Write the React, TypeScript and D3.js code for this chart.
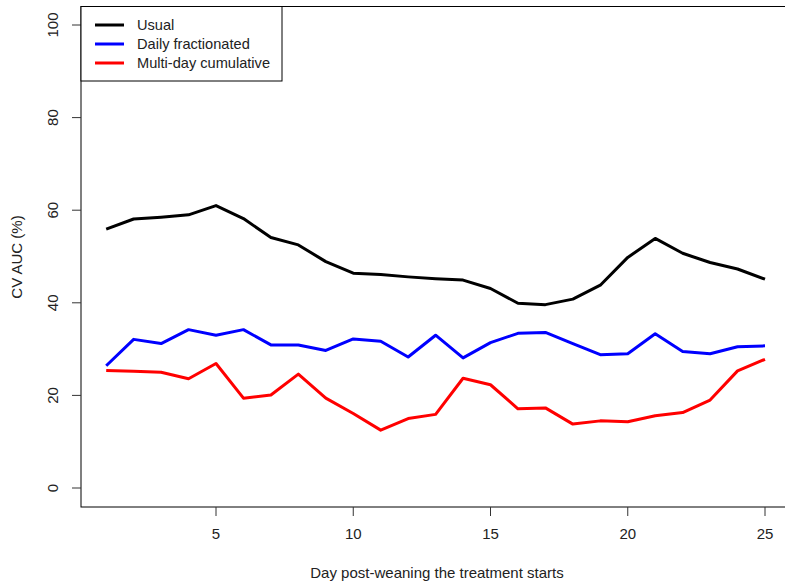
import React, { useRef, useEffect } from 'react';
import * as d3 from 'd3';

const days = [1, 2, 3, 4, 5, 6, 7, 8, 9, 10, 11, 12, 13, 14, 15, 16, 17, 18, 19, 20, 21, 22, 23, 24, 25];
const usual = [55.9, 58.1, 58.5, 59.0, 61.0, 58.2, 54.1, 52.5, 48.9, 46.4, 46.1, 45.6, 45.2, 44.9, 43.1, 39.9, 39.6, 40.8, 43.8, 49.8, 53.9, 50.7, 48.7, 47.3, 45.1];
const dailyFractionated = [26.4, 32.1, 31.2, 34.2, 33.0, 34.2, 30.9, 30.9, 29.7, 32.2, 31.7, 28.3, 33.0, 28.1, 31.4, 33.4, 33.6, 31.2, 28.8, 29.0, 33.3, 29.5, 29.0, 30.5, 30.7];
const multiDay = [25.4, 25.2, 25.0, 23.6, 26.9, 19.4, 20.1, 24.6, 19.4, 16.1, 12.5, 15.0, 15.9, 23.7, 22.3, 17.1, 17.3, 13.8, 14.5, 14.3, 15.6, 16.3, 19.0, 25.3, 27.8];
const xTicks = [5, 10, 15, 20, 25];
const yTicks = [0, 20, 40, 60, 80, 100];
const seriesNames = ['Usual', 'Daily fractionated', 'Multi-day cumulative'];
const seriesColors = ['black', 'blue', 'red'];

const width = 785;
const height = 582;
const box = { left: 81, right: 790, top: 6.5, bottom: 507 };
const font = "'Liberation Sans', Arial, sans-serif";
const textColor = '#222';

const App = () => {
  const ref = useRef(null);

  useEffect(() => {
    const svg = d3.select(ref.current);
    svg.selectAll('*').remove();

    const xScale = d3.scaleLinear().domain([1, 25]).range([106.2, 765]);
    const yScale = d3.scaleLinear().domain([0, 100]).range([488, 25]);

    // plot frame
    svg
      .append('rect')
      .attr('x', box.left)
      .attr('y', box.top)
      .attr('width', box.right - box.left)
      .attr('height', box.bottom - box.top)
      .attr('fill', 'none')
      .attr('stroke', 'black')
      .attr('stroke-width', 1);

    // y axis
    const yAxis = svg.append('g');
    yAxis
      .selectAll('line')
      .data(yTicks)
      .enter()
      .append('line')
      .attr('x1', box.left - 9)
      .attr('x2', box.left)
      .attr('y1', (d) => yScale(d))
      .attr('y2', (d) => yScale(d))
      .attr('stroke', '#333');
    yAxis
      .selectAll('text')
      .data(yTicks)
      .enter()
      .append('text')
      .attr('transform', (d) => `translate(58, ${yScale(d)}) rotate(-90)`)
      .attr('text-anchor', 'middle')
      .attr('font-family', font)
      .attr('font-size', 15)
      .attr('fill', textColor)
      .text((d) => d);

    // x axis
    const xAxis = svg.append('g');
    xAxis
      .selectAll('line')
      .data(xTicks)
      .enter()
      .append('line')
      .attr('x1', (d) => xScale(d))
      .attr('x2', (d) => xScale(d))
      .attr('y1', box.bottom)
      .attr('y2', box.bottom + 9)
      .attr('stroke', '#333');
    xAxis
      .selectAll('text')
      .data(xTicks)
      .enter()
      .append('text')
      .attr('x', (d) => xScale(d))
      .attr('y', 539)
      .attr('text-anchor', 'middle')
      .attr('font-family', font)
      .attr('font-size', 15)
      .attr('fill', textColor)
      .text((d) => d);

    svg
      .append('text')
      .attr('x', 437)
      .attr('y', 578)
      .attr('text-anchor', 'middle')
      .attr('font-family', font)
      .attr('font-size', 15)
      .attr('fill', textColor)
      .text('Day post-weaning the treatment starts');

    svg
      .append('text')
      .attr('transform', 'translate(22, 257) rotate(-90)')
      .attr('text-anchor', 'middle')
      .attr('font-family', font)
      .attr('font-size', 15)
      .attr('fill', textColor)
      .text('CV AUC (%)');

    // lines
    const line = d3
      .line<number>()
      .x((_, i) => xScale(days[i]))
      .y((d) => yScale(d));
    [usual, dailyFractionated, multiDay].forEach((values, i) => {
      svg
        .append('path')
        .datum(values)
        .attr('d', line)
        .attr('fill', 'none')
        .attr('stroke', seriesColors[i])
        .attr('stroke-width', 3)
        .attr('stroke-linejoin', 'round');
    });

    // legend
    const legend = svg.append('g');
    legend
      .append('rect')
      .attr('x', box.left)
      .attr('y', box.top)
      .attr('width', 201)
      .attr('height', 74.5)
      .attr('fill', 'white')
      .attr('stroke', 'black');
    seriesNames.forEach((name, i) => {
      const y = 25 + i * 19;
      legend
        .append('line')
        .attr('x1', 95)
        .attr('x2', 124)
        .attr('y1', y)
        .attr('y2', y)
        .attr('stroke', seriesColors[i])
        .attr('stroke-width', 3);
      legend
        .append('text')
        .attr('x', 137)
        .attr('y', y + 5)
        .attr('font-family', font)
        .attr('font-size', 14.6)
        .attr('fill', textColor)
        .text(name);
    });
  }, []);

  return (
    <svg
      ref={ref}
      width={width}
      height={height}
      style={{ position: 'absolute', left: 0, top: 0, background: 'white' }}
    />
  );
};

export default App;
